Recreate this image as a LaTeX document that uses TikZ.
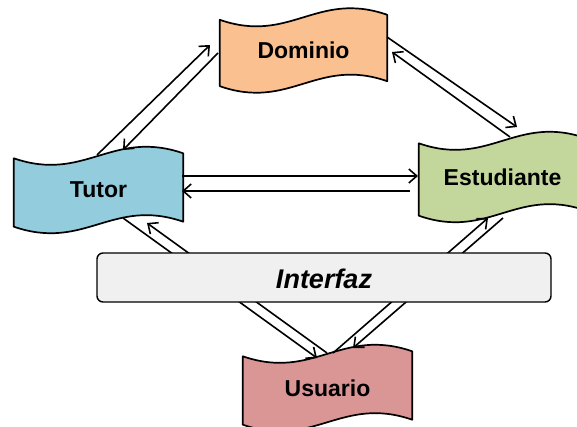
\documentclass[tikz,border=0pt]{standalone}
\usepackage{fontspec}
\setmainfont{Liberation Sans}
\usetikzlibrary{calc,arrows.meta}
\definecolor{cdom}{HTML}{FAC090}
\definecolor{ctut}{HTML}{93CDDD}
\definecolor{cest}{HTML}{C3D69B}
\definecolor{cusu}{HTML}{D99694}
\definecolor{cint}{HTML}{F0F0F0}
\newcommand{\wavebox}[2]{%
  \filldraw[fill=#2, waveline] let \p1=(#1.north west), \p2=(#1.south east), \n1={\x2-\x1} in
    (\x1,\y1-2.5pt) .. controls (\x1+0.42*\n1,\y1-27pt) and (\x1+0.58*\n1,\y1+27pt) .. (\x2,\y1+2.5pt)
    -- (\x2,\y2+2.5pt) .. controls (\x1+0.58*\n1,\y2+27pt) and (\x1+0.42*\n1,\y2-27pt) .. (\x1,\y2-2.5pt)
    -- cycle;}
\begin{document}
\begin{tikzpicture}[x=1pt,y=-1pt,
  waveline/.style={draw=black, line width=1.7pt, line join=round},
  wavenode/.style={inner sep=0pt, font=\fontsize{23}{27}\selectfont\bfseries},
  arr/.style={line width=1.6pt, -{Straight Barb[length=8pt,width=14pt]}},
  intbox/.style={draw=black, line width=1.4pt, fill=cint, rounded corners=6pt,
    inner sep=0pt, font=\fontsize{27}{31}\selectfont\bfseries\itshape}]
\useasboundingbox (0,0) rectangle (577,427);
\node[wavenode, minimum width=167pt, minimum height=66pt] (dom) at (303.5,50.5) {};
\node[wavenode, minimum width=169pt, minimum height=68pt] (tut) at (98.5,190) {};
\node[wavenode, minimum width=167pt, minimum height=72pt] (est) at (502.5,177) {};
\node[wavenode, minimum width=169pt, minimum height=68pt] (usu) at (327.5,388) {};
\wavebox{dom}{cdom}
\wavebox{tut}{ctut}
\wavebox{est}{cest}
\wavebox{usu}{cusu}
\node[wavenode] at (dom) {Dominio};
\node[wavenode] at (tut) {Tutor};
\node[wavenode] at (est) {Estudiante};
\node[wavenode] at (usu) {Usuario};
% connectors
\draw[arr] ($(tut)+(-1.5,-35)$) -- ($(dom)+(-93.5,-5.5)$);
\draw[arr] ($(dom)+(-85.5,2.5)$) -- ($(tut)+(24.5,-40)$);
\draw[arr] ($(dom)+(83.5,-13.5)$) -- ($(est)+(14.5,-50)$);
\draw[arr] ($(est)+(7.5,-40)$) -- ($(dom)+(88.5,1.5)$);
\draw[arr] ($(tut)+(83.5,-14)$) -- ($(est)+(-84.5,-1)$);
\draw[arr] ($(est)+(-92.5,14)$) -- ($(tut)+(83.5,1)$);
\draw[arr] ($(tut)+(24.5,28)$) -- ($(usu)+(-10.5,-30)$);
\draw[arr] ($(usu)+(-0.5,-35)$) -- ($(tut)+(48.5,33)$);
\draw[arr] ($(usu)+(5.5,-35)$) -- ($(est)+(-14.5,41)$);
\draw[arr] ($(est)+(0.5,41)$) -- ($(usu)+(25.5,-40)$);
% interface bar
\node[intbox, minimum width=454pt, minimum height=49pt, text depth=0pt] (int) at (324,277.5) {\raisebox{-3pt}{Interfaz}};
\end{tikzpicture}
\end{document}
